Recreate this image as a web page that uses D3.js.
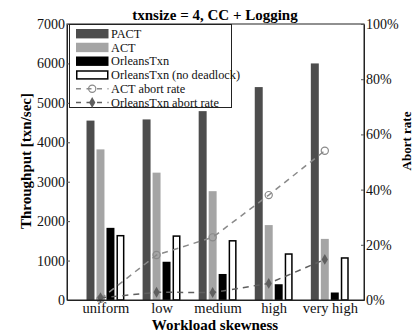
<!DOCTYPE html>
<html>
<head>
<meta charset="utf-8">
<script src="https://cdn.jsdelivr.net/npm/d3@7/dist/d3.min.js"></script>
<style>
  html, body { margin: 0; padding: 0; background: #fff; }
  svg, svg text { font-family: "Liberation Serif", "Times New Roman", "DejaVu Serif", serif !important; }
</style>
</head>
<body>
<svg id="chart" width="420" height="333"></svg>
<script>
// ---- data ----
const categories = ["uniform", "low", "medium", "high", "very high"];
const seriesNames = ["PACT", "ACT", "OrleansTxn", "OrleansTxn (no deadlock)"];
const pactThroughput = [4550, 4580, 4790, 5400, 6000];
const actThroughput = [3820, 3230, 2760, 1900, 1550];
const orleansThroughput = [1830, 970, 660, 400, 190];
const orleansNoDeadlockThroughput = [1650, 1640, 1520, 1185, 1085];
const actAbortRate = [0.004, 0.163, 0.227, 0.380, 0.541];
const orleansAbortRate = [0.008, 0.028, 0.027, 0.060, 0.147];
const leftTicks = [0, 1000, 2000, 3000, 4000, 5000, 6000, 7000];
const rightTicks = [0, 0.2, 0.4, 0.6, 0.8, 1.0];

// ---- layout ----
const L = 67, R = 364, T = 24, B = 300;
const svg = d3.select("#chart");

const x = d3.scaleLinear().domain([0.314, 5.61]).range([L, R]);
const y = d3.scaleLinear().domain([0, 7000]).range([B, T]);
const yR = d3.scaleLinear().domain([0, 1]).range([B, T]);

const barStep = 0.178, barW = 0.142;
const barSeries = [pactThroughput, actThroughput, orleansThroughput, orleansNoDeadlockThroughput];
const barFill = ["#4d4d4d", "#a5a5a5", "#000000", "#ffffff"];
const barStroke = [null, null, null, "#000000"];

// bars
barSeries.forEach((vals, k) => {
  svg.append("g").selectAll("rect").data(vals).join("rect")
    .attr("x", (v, i) => x(i + 1 + (k - 1.5) * barStep - barW / 2) + (barStroke[k] ? 0.75 : 0))
    .attr("width", x(barW) - x(0) - (barStroke[k] ? 1.5 : 0))
    .attr("y", v => y(v) + (barStroke[k] ? 0.75 : 0))
    .attr("height", v => y(0) - y(v) - (barStroke[k] ? 0.75 : 0))
    .attr("fill", barFill[k])
    .attr("stroke", barStroke[k] || "none")
    .attr("stroke-width", 1.5);
});

// abort rate lines
const markerOff = -0.5 * barStep;
const lineSpecs = [
  { vals: actAbortRate, color: "#8a8a8a", marker: "circle" },
  { vals: orleansAbortRate, color: "#5f5f5f", marker: "diamond" }
];
const lineGen = d3.line().x((v, i) => x(i + 1 + markerOff)).y(v => yR(v));
lineSpecs.forEach(s => {
  svg.append("path").datum(s.vals).attr("d", lineGen)
    .attr("fill", "none").attr("stroke", s.color)
    .attr("stroke-width", 1.5).attr("stroke-dasharray", "6,5");
  const g = svg.append("g");
  if (s.marker === "circle") {
    g.selectAll("circle").data(s.vals).join("circle")
      .attr("cx", (v, i) => x(i + 1 + markerOff)).attr("cy", v => yR(v))
      .attr("r", 3.6).attr("fill", "none").attr("stroke", s.color).attr("stroke-width", 1.2);
  } else {
    g.selectAll("path").data(s.vals).join("path")
      .attr("transform", (v, i) => `translate(${x(i + 1 + markerOff)},${yR(v)})`)
      .attr("d", d3.symbol().type(d3.symbolDiamond).size(34))
      .attr("fill", s.color);
  }
});

// frame
svg.append("rect").attr("x", L).attr("y", T).attr("width", R - L).attr("height", B - T)
  .attr("fill", "none").attr("stroke", "#222").attr("stroke-width", 1);

// axes
const leftAxis = svg.append("g").attr("transform", `translate(${L},0)`)
  .call(d3.axisLeft(y).tickValues(leftTicks).tickFormat(d3.format("d")).tickSizeInner(-3).tickSizeOuter(0).tickPadding(2));
const rightAxis = svg.append("g").attr("transform", `translate(${R},0)`)
  .call(d3.axisRight(yR).tickValues(rightTicks).tickFormat(d3.format(".0%")).tickSizeInner(-3).tickSizeOuter(0).tickPadding(2));
const bottomAxis = svg.append("g").attr("transform", `translate(0,${B})`)
  .call(d3.axisBottom(x).tickValues(categories.map((c, i) => i + 1)).tickFormat((d, i) => categories[i]).tickSizeInner(0).tickSizeOuter(0).tickPadding(2));
[leftAxis, rightAxis, bottomAxis].forEach(a => {
  a.attr("font-family", null);
  a.select(".domain").attr("stroke", "#222");
  a.selectAll(".tick line").attr("stroke", "#555");
  a.selectAll("text").attr("fill", "#111");
});
leftAxis.attr("font-size", 14);
rightAxis.attr("font-size", 14);
bottomAxis.attr("font-size", 14.5);
bottomAxis.selectAll("text").attr("dy", null).attr("y", 13.2);

// titles
svg.append("text").attr("x", 215).attr("y", 19.5).attr("text-anchor", "middle")
  .attr("font-weight", "bold").attr("font-size", 15).text("txnsize = 4, CC + Logging");
svg.append("text").attr("x", 215).attr("y", 330).attr("text-anchor", "middle")
  .attr("font-weight", "bold").attr("font-size", 15).text("Workload skewness");
svg.append("text").attr("transform", "translate(31,161) rotate(-90)").attr("text-anchor", "middle")
  .attr("font-weight", "bold").attr("font-size", 15).text("Throughput [txn/sec]");
svg.append("text").attr("transform", "translate(411,141) rotate(-90)").attr("text-anchor", "middle")
  .attr("font-weight", "bold").attr("font-size", 13).text("Abort rate");

// legend
const legendItems = seriesNames.map((n, k) => ({ type: "bar", name: n, k }))
  .concat([{ type: "line", name: "ACT abort rate", s: 0 }, { type: "line", name: "OrleansTxn abort rate", s: 1 }]);
const lg = svg.append("g");
lg.append("rect").attr("x", 69.5).attr("y", 24.5).attr("width", 162).attr("height", 83)
  .attr("fill", "#fff").attr("stroke", "#222").attr("stroke-width", 1);
const rowY = i => 33.7 + i * 13.75;
legendItems.forEach((it, i) => {
  const cy = rowY(i);
  if (it.type === "bar") {
    lg.append("rect").attr("x", 76 + (barStroke[it.k] ? 0.75 : 0)).attr("y", cy - 4.7 + (barStroke[it.k] ? 0.75 : 0))
      .attr("width", 32.5 - (barStroke[it.k] ? 1.5 : 0)).attr("height", 9.4 - (barStroke[it.k] ? 1.5 : 0))
      .attr("fill", barFill[it.k]).attr("stroke", barStroke[it.k] || "none").attr("stroke-width", 1.5);
  } else {
    const s = lineSpecs[it.s];
    lg.append("line").attr("x1", 76).attr("x2", 108.5).attr("y1", cy).attr("y2", cy)
      .attr("stroke", s.color).attr("stroke-width", 1.5).attr("stroke-dasharray", "5,5.5");
    if (s.marker === "circle") {
      lg.append("circle").attr("cx", 92.2).attr("cy", cy).attr("r", 3.6)
        .attr("fill", "none").attr("stroke", s.color).attr("stroke-width", 1.2);
    } else {
      lg.append("path").attr("transform", `translate(92.2,${cy})`)
        .attr("d", d3.symbol().type(d3.symbolDiamond).size(34)).attr("fill", s.color);
    }
  }
  lg.append("text").attr("x", 111).attr("y", cy + 4.2).attr("font-size", 12.3).attr("fill", "#111").text(it.name);
});
</script>
</body>
</html>
